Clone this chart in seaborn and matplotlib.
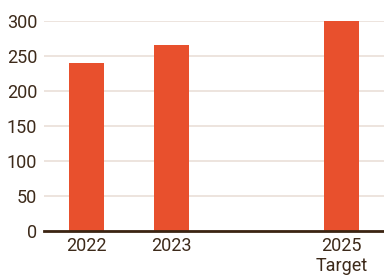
import matplotlib
matplotlib.use("Agg")
import matplotlib.pyplot as plt
import seaborn as sns
import pandas as pd

categories = ["2022", "2023", "2025\nTarget"]
values = [240, 265, 300]
order = ["2022", "2023", "2024", "2025\nTarget"]
tick_labels = ["2022", "2023", "", "2025\nTarget"]
yticks = [0, 50, 100, 150, 200, 250, 300]

sns.set_theme(style="white")
plt.rcParams["font.family"] = ["Roboto", "DejaVu Sans"]

text_color = "#3D2A1A"
bar_color = "#E8502D"
grid_color = "#EADFD8"

df = pd.DataFrame({"year": categories, "value": values})

fig = plt.figure(figsize=(3.84, 2.79), dpi=100)
ax = fig.add_axes([44 / 384, 48 / 279, 340 / 384, 210 / 279])
sns.barplot(data=df, x="year", y="value", order=order, color=bar_color,
            saturation=1, width=0.42, linewidth=0, ax=ax, zorder=3)

ax.set_xlim(-0.5, 3.5)
ax.set_ylim(0, 300)
ax.set_yticks(yticks)
ax.set_yticklabels([str(v) for v in yticks])
ax.set_xticks(range(len(order)))
ax.set_xticklabels(tick_labels)
ax.set_xlabel("")
ax.set_ylabel("")
ax.grid(axis="y", color=grid_color, linewidth=1.2, zorder=0)
ax.set_axisbelow(True)
for s in ["top", "right", "left"]:
    ax.spines[s].set_visible(False)
ax.spines["bottom"].set_color("#3B2412")
ax.spines["bottom"].set_linewidth(2)
ax.spines["bottom"].set_zorder(5)
ax.tick_params(axis="both", length=0, labelsize=13, colors=text_color)
ax.tick_params(axis="y", pad=5)
ax.tick_params(axis="x", pad=4)
for lbl in ax.get_xticklabels():
    lbl.set_linespacing(1.2)

fig.savefig("out.png", dpi=100)
